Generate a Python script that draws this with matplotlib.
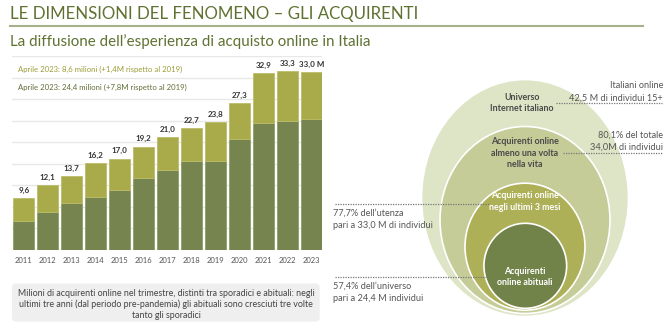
import matplotlib
matplotlib.use("Agg")
import matplotlib.pyplot as plt
from matplotlib.patches import Ellipse, FancyBboxPatch

plt.rcParams['font.family'] = ['Lato', 'DejaVu Sans']

# ---- data ----
years = ["2011", "2012", "2013", "2014", "2015", "2016", "2017",
         "2018", "2019", "2020", "2021", "2022", "2023"]
totals = [9.6, 12.1, 13.7, 16.2, 17.0, 19.2, 21.0, 22.7, 23.8, 27.3, 32.9, 33.3, 33.0]
habitual = [5.4, 7.0, 8.7, 9.9, 11.2, 13.3, 14.8, 16.5, 16.6, 20.6, 23.6, 24.0, 24.4]
sporadic = [t - h for t, h in zip(totals, habitual)]
total_labels = ["9,6", "12,1", "13,7", "16,2", "17,0", "19,2", "21,0",
                "22,7", "23,8", "27,3", "32,9", "33,3", "33,0 M"]
legend_sporadic = "Aprile 2023: 8,6 milioni (+1,4M rispetto al 2019)"
legend_habitual = "Aprile 2023: 24,4 milioni (+7,8M rispetto al 2019)"
caption = ("Milioni di acquirenti online nel trimestre, distinti tra sporadici e abituali: negli\n"
           "ultimi tre anni (dal periodo pre-pandemia) gli abituali sono cresciuti tre volte\n"
           "tanto gli sporadici")

W, H = 670, 327
DARK = "#76844f"
LIGHT = "#a9aa4a"
OLIVE = "#5f7232"

fig = plt.figure(figsize=(W / 100, H / 100), dpi=100)

# overlay axes in pixel coordinates
ov = fig.add_axes([0, 0, 1, 1])
ov.set_xlim(0, W)
ov.set_ylim(H, 0)
ov.axis("off")

# ---- bar chart axes ----
left_px, right_px, top_px, bot_px = 11.7, 321.7, 56.3, 250
ax = fig.add_axes([left_px / W, (H - bot_px) / H, (right_px - left_px) / W, (bot_px - top_px) / H])
x = list(range(len(years)))
ax.set_xlim(-0.505, 12.434)
ax.set_ylim(0, 36)
for gy in range(4, 37, 4):
    ax.axhline(gy, color="#e8e8e8", lw=1, zorder=0)
ax.axhline(0, color="#dcdcdc", lw=1, zorder=0)
ax.bar(x, habitual, width=0.875, color=DARK, edgecolor="#8e9c68", lw=0.6, zorder=2)
ax.bar(x, sporadic, bottom=habitual, width=0.875, color=LIGHT, edgecolor="#bcbd6a", lw=0.6, zorder=2)
for xi, t, lab in zip(x, totals, total_labels):
    ax.text(xi, t + 0.8, lab, ha="center", va="bottom", fontsize=5.8,
            fontweight="bold", color="#333333", zorder=3)
ax.set_xticks(x)
ax.set_xticklabels(years, fontsize=5.5, color="#555555")
ax.tick_params(axis="x", length=0, pad=5)
ax.set_yticks([])
for s in ax.spines.values():
    s.set_visible(False)
ax.patch.set_alpha(0)

ov.text(18, 69.5, legend_sporadic, fontsize=5.6, color="#9c9d35", va="center", ha="left")
ov.text(18, 87, legend_habitual, fontsize=5.6, color="#5f6f36", va="center", ha="left")

# ---- title ----
ov.text(10, 14.5, "LE DIMENSIONI DEL FENOMENO – GLI ACQUIRENTI", fontsize=12.2,
        color=OLIVE, va="center", ha="left")
ov.plot([10, 643], [25.5, 25.5], color="#a6b08a", lw=1.5)
ov.text(10, 42, "La diffusione dell\u2019esperienza di acquisto online in Italia",
        fontsize=10.9, color=OLIVE, va="center", ha="left")

# ---- caption box ----
box = FancyBboxPatch((12, 283.5), 307.7, 38, boxstyle="round,pad=0,rounding_size=4",
                     fc="#efefef", ec="none")
ov.add_patch(box)
ov.text(166, 304.5, caption, fontsize=6.4, color="#444444", ha="center", va="center",
        linespacing=1.3)

# ---- nested ellipses ----
ells = [
    ((525, 198), 207, 237, "#dde5c6"),
    ((525, 220), 170, 187, "#c5cc98"),
    ((525, 246.7), 120, 127, "#aeb058"),
    ((525.3, 265.8), 82.7, 85, "#72834a"),
]
for (c, w, h, col) in ells:
    ov.add_patch(Ellipse(c, w, h, fc=col, ec="white", lw=1.2))

fs_in = 6.4
ov.text(522, 103, "Universo\nInternet italiano", fontsize=fs_in, fontweight="bold",
        color="#4a4a4a", ha="center", va="center", linespacing=1.4)
ov.text(525, 153, "Acquirenti online\nalmeno una volta\nnella vita", fontsize=fs_in,
        fontweight="bold", color="#4a4a4a", ha="center", va="center", linespacing=1.4)
ov.text(525, 201.5, "Acquirenti online\nnegli ultimi 3 mesi", fontsize=fs_in,
        fontweight="bold", color="white", ha="center", va="center", linespacing=1.4)
ov.text(525, 277, "Acquirenti\nonline abituali", fontsize=fs_in,
        fontweight="bold", color="white", ha="center", va="center", linespacing=1.4)

# ---- annotations ----
ann_col = "#555555"
fs_ann = 6.6
ov.plot([556, 662], [102.7, 102.7], color="#777777", lw=0.9, ls=(0, (1, 1)))
ov.text(663, 92, "Italiani online\n42,5 M di individui 15+", fontsize=fs_ann,
        color=ann_col, ha="right", va="center", linespacing=1.45)
ov.plot([563, 662], [153.3, 153.3], color="#777777", lw=0.9, ls=(0, (1, 1)))
ov.text(663, 141.5, "80,1% del totale\n34,0M di individui", fontsize=fs_ann,
        color=ann_col, ha="right", va="center", linespacing=1.45)
ov.plot([335, 490], [204, 204], color="#777777", lw=0.9, ls=(0, (1, 1)))
ov.text(333, 219.5, "77,7% dell\u2019utenza\npari a 33,0 M di individui", fontsize=fs_ann,
        color=ann_col, ha="left", va="center", linespacing=1.45)
ov.plot([335, 486], [276.7, 276.7], color="#777777", lw=0.9, ls=(0, (1, 1)))
ov.text(333, 292, "57,4% dell\u2019universo\npari a 24,4 M individui", fontsize=fs_ann,
        color=ann_col, ha="left", va="center", linespacing=1.45)

fig.savefig("out.png", dpi=100)
